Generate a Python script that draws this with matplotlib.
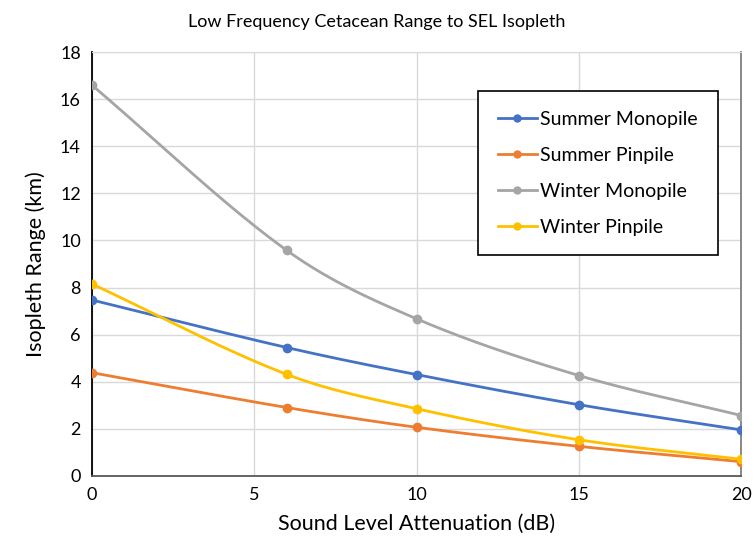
import numpy as np
import matplotlib.pyplot as plt

# ── DATA ──────────────────────────────────────────────────
attenuation = [0, 6, 10, 15, 20]
summer_mono = [7.47, 5.45, 4.30, 3.02, 1.95]
summer_pin  = [4.38, 2.90, 2.06, 1.25, 0.60]
winter_mono = [16.6, 9.58, 6.67, 4.26, 2.56]
winter_pin  = [8.15, 4.31, 2.85, 1.53, 0.70]

series = [
    ('Summer Monopile', summer_mono, '#4472C4'),
    ('Summer Pinpile',  summer_pin,  '#ED7D31'),
    ('Winter Monopile', winter_mono, '#A5A5A5'),
    ('Winter Pinpile',  winter_pin,  '#FFC000'),
]


def smooth(x, y, n=40):
    # smoothed line like Excel: cubic bezier segments, tangents from neighbours
    x = np.asarray(x, float); y = np.asarray(y, float)
    m = np.empty_like(y)
    m[1:-1] = (y[2:] - y[:-2]) / (x[2:] - x[:-2])
    m[0] = (y[1] - y[0]) / (x[1] - x[0])
    m[-1] = (y[-1] - y[-2]) / (x[-1] - x[-2])
    t = np.linspace(0, 1, n)
    xs, ys = [], []
    for i in range(len(x) - 1):
        h = x[i + 1] - x[i]
        p0 = np.array([x[i], y[i]])
        p3 = np.array([x[i + 1], y[i + 1]])
        p1 = p0 + np.array([h / 3, m[i] * h / 3])
        p2 = p3 - np.array([h / 3, m[i + 1] * h / 3])
        b = ((1 - t) ** 3)[:, None] * p0 + (3 * (1 - t) ** 2 * t)[:, None] * p1 \
            + (3 * (1 - t) * t ** 2)[:, None] * p2 + (t ** 3)[:, None] * p3
        xs.append(b[:, 0]); ys.append(b[:, 1])
    return np.concatenate(xs), np.concatenate(ys)


plt.rcParams['font.family'] = ['Lato', 'DejaVu Sans']

fig = plt.figure(figsize=(7.54, 5.5), dpi=100, facecolor='white')
ax = fig.add_axes([0.122, 0.135, 0.861, 0.77])

for name, vals, col in series:
    sx, sy = smooth(attenuation, vals)
    ax.plot(sx, sy, color=col, linewidth=2, zorder=3)
    ax.plot(attenuation, vals, 'o', color=col, markersize=6, zorder=4)
    ax.plot([], [], '-o', color=col, linewidth=2, markersize=5, label=name)

ax.set_xlim(0, 20)
ax.set_ylim(0, 18)
ax.set_xticks([0, 5, 10, 15, 20])
ax.set_yticks(range(0, 19, 2))
ax.grid(True, color='#D9D9D9', linewidth=1)
ax.set_axisbelow(True)
ax.tick_params(length=0, labelsize=13, pad=8)

ax.spines['left'].set_color('black')
ax.spines['left'].set_linewidth(1.3)
ax.spines['bottom'].set_color('#595959')
ax.spines['bottom'].set_linewidth(1.3)
ax.spines['right'].set_color('#7F7F7F')
ax.spines['right'].set_linewidth(1.3)
ax.spines['top'].set_color('#D9D9D9')

ax.set_xlabel('Sound Level Attenuation (dB)', fontsize=15.5, labelpad=8)
ax.set_ylabel('Isopleth Range (km)', fontsize=15.5, labelpad=10)
fig.suptitle('Low Frequency Cetacean Range to SEL Isopleth', fontsize=13, y=0.975)

leg = ax.legend(loc='upper left', bbox_to_anchor=(0.595, 0.908), fontsize=14,
                frameon=True, fancybox=False, edgecolor='black', framealpha=1,
                handlelength=2.0, handletextpad=0.2, labelspacing=0.98,
                borderpad=1.0, borderaxespad=0)
leg.get_frame().set_linewidth(1.2)

fig.savefig('out.png', dpi=100, facecolor='white')
